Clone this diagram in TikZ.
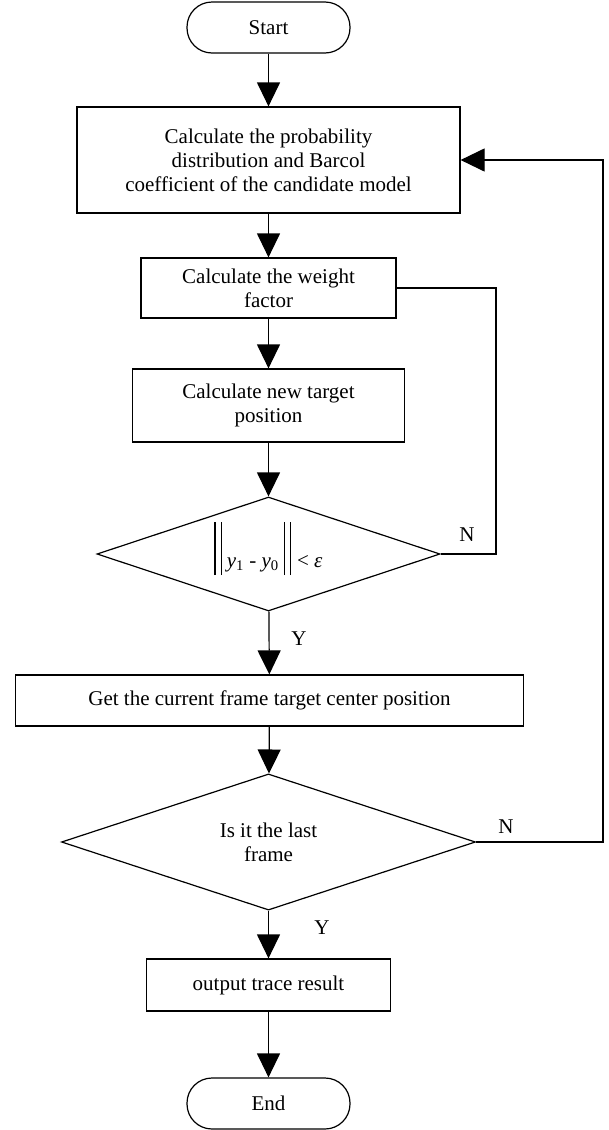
\documentclass[tikz,border=0pt]{standalone}
\usepackage{fontspec}
\setmainfont{Liberation Serif}
\usetikzlibrary{arrows.meta}
\usetikzlibrary{shapes.geometric}

\newcommand{\normbar}{\rule[-8pt]{1.2pt}{53pt}\hspace{5pt}\rule[-8pt]{1.2pt}{53pt}}

\tikzset{
  flowline/.style={line width=1.2pt, black},
  flowarrow/.style={flowline, -{Triangle[width=23pt, length=24pt]}},
  terminal/.style={draw, line width=1.2pt, rounded corners=25pt, minimum width=163pt, minimum height=51pt, inner sep=0pt},
  procbox/.style={draw, line width=1.2pt, align=center, inner sep=0pt},
  decision/.style={draw, line width=1.2pt, diamond, align=center, inner sep=0pt},
}

\begin{document}
\begin{tikzpicture}[x=1pt, y=-1pt, font=\fontsize{21}{24}\selectfont]
\useasboundingbox (0, 0) rectangle (609, 1130);

\node[terminal] (start) at (268.5, 27.5) {Start};
\node[procbox, minimum width=383pt, minimum height=106pt] (calc1) at (268.5, 160)
  {Calculate the probability\\distribution and Barcol\\coefficient of the candidate model};
\node[procbox, minimum width=255pt, minimum height=60pt] (calc2) at (268.5, 288)
  {Calculate the weight\\factor};
\node[procbox, minimum width=272pt, minimum height=73pt] (calc3) at (268.5, 405.5)
  {Calculate new target\\position};
\node[decision, minimum width=343pt, minimum height=114pt] (conv) at (268.5, 554)
  {\smash{\raisebox{-13pt}{\normbar\hspace{5pt}\textit{y}\textsubscript{1} - \textit{y}\textsubscript{0}\hspace{5pt}\normbar\hspace{6pt}< \textit{ε}}}};
\node[procbox, minimum width=508pt, minimum height=51pt] (getpos) at (269.5, 700.5)
  {Get the current frame target center position};
\node[decision, minimum width=414pt, minimum height=110pt] (last) at (268.5, 842)
  {Is it the last\\frame};
\node[procbox, minimum width=244pt, minimum height=52pt] (output) at (268.5, 985)
  {output trace result};
\node[terminal] (end) at (268.5, 1103.5) {End};

\coordinate (loopA) at (496, 0);
\coordinate (loopB) at (603, 0);

\draw[flowarrow] (start) -- (calc1);
\draw[flowarrow] (calc1) -- (calc2);
\draw[flowarrow] (calc2) -- (calc3);
\draw[flowarrow] (calc3) -- (conv);
\draw[flowarrow] (conv) -- (getpos);
\draw[flowarrow] (getpos) -- (last);
\draw[flowarrow] (last) -- (output);
\draw[flowarrow] (output) -- (end);

\draw[flowline] (conv.east) -- (conv.east -| loopA) |- (calc2.east);
\draw[flowarrow] (last.east) -- (last.east -| loopB) |- (calc1.east);

\node[] (n1) at (467, 535) {N};
\node[] (y1) at (299, 639) {Y};
\node[] (n2) at (506, 827) {N};
\node[] (y2) at (322, 928) {Y};
\end{tikzpicture}
\end{document}
